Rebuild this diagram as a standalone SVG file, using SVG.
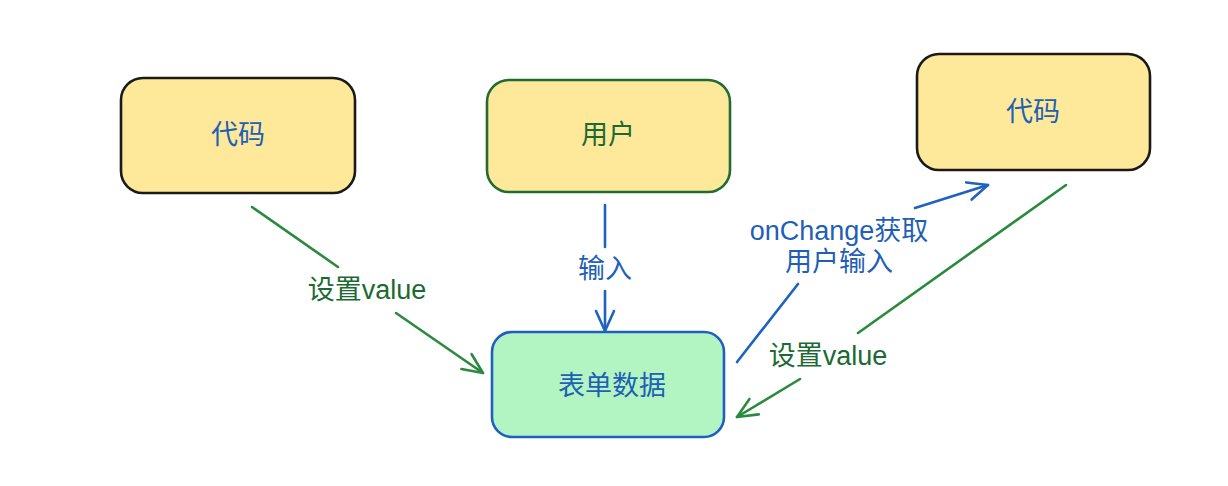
<svg xmlns="http://www.w3.org/2000/svg" width="1228" height="486" viewBox="0 0 1228 486">
<style>
.t{font-family:"Liberation Sans","Noto Sans CJK SC",sans-serif;font-size:27px;text-anchor:middle;dominant-baseline:central}
.blue{fill:#1f5fb5}
.green{fill:#1b6a32}
.box{stroke-width:2.6}
.c{fill:none;stroke-width:2.6;stroke-linecap:round}
.cg{stroke:#2a8a3e}
.cb{stroke:#1f62c0}
</style>
<defs>
<marker id="ag" markerUnits="userSpaceOnUse" markerWidth="30" markerHeight="30" refX="0" refY="0" viewBox="-25 -15 30 30" orient="auto">
<path d="M-20,-9 L0,0 L-20,9" fill="none" stroke="#2a8a3e" stroke-width="2.6" stroke-linecap="round" stroke-linejoin="round"/>
</marker>
<marker id="ab" markerUnits="userSpaceOnUse" markerWidth="30" markerHeight="30" refX="0" refY="0" viewBox="-25 -15 30 30" orient="auto">
<path d="M-20,-9 L0,0 L-20,9" fill="none" stroke="#1f62c0" stroke-width="2.6" stroke-linecap="round" stroke-linejoin="round"/>
</marker>
</defs>
<rect width="1228" height="486" fill="#ffffff"/>
<g id="node-code-left">
<rect class="box" x="121" y="78" width="234" height="115" rx="22" fill="#fee99b" stroke="#1a1a1a"/>
<text class="t blue" x="238" y="135">代码</text>
</g>
<g id="node-user">
<rect class="box" x="487" y="80" width="243" height="112" rx="22" fill="#fee99b" stroke="#226b32"/>
<text class="t green" x="608" y="135">用户</text>
</g>
<g id="node-code-right">
<rect class="box" x="917" y="54" width="233" height="116" rx="22" fill="#fee99b" stroke="#1a1a1a"/>
<text class="t blue" x="1033" y="112">代码</text>
</g>
<g id="node-form">
<rect class="box" x="492" y="332" width="232" height="105" rx="20" fill="#b3f5c2" stroke="#1f5fbf"/>
<text class="t blue" x="612" y="386">表单数据</text>
</g>
<g id="connectors">
<path class="c cg" d="M252,207 L338,267"/>
<path class="c cg" d="M396,313 L483,373" marker-end="url(#ag)"/>
<text class="t green" x="367" y="290">设置value</text>
<path class="c cb" d="M605,205 L605,247"/>
<path class="c cb" d="M605,291 L605,331" marker-end="url(#ab)"/>
<text class="t blue" x="605" y="269">输入</text>
<path class="c cb" d="M737,362 L798,284"/>
<path class="c cb" d="M915,208 L988,185" marker-end="url(#ab)"/>
<text class="t blue" x="839" y="231">onChange获取</text>
<text class="t blue" x="839" y="262">用户输入</text>
<path class="c cg" d="M1066,185 L858,333"/>
<path class="c cg" d="M800,379 L737,417" marker-end="url(#ag)"/>
<text class="t green" x="828" y="356">设置value</text>
</g>
</svg>
